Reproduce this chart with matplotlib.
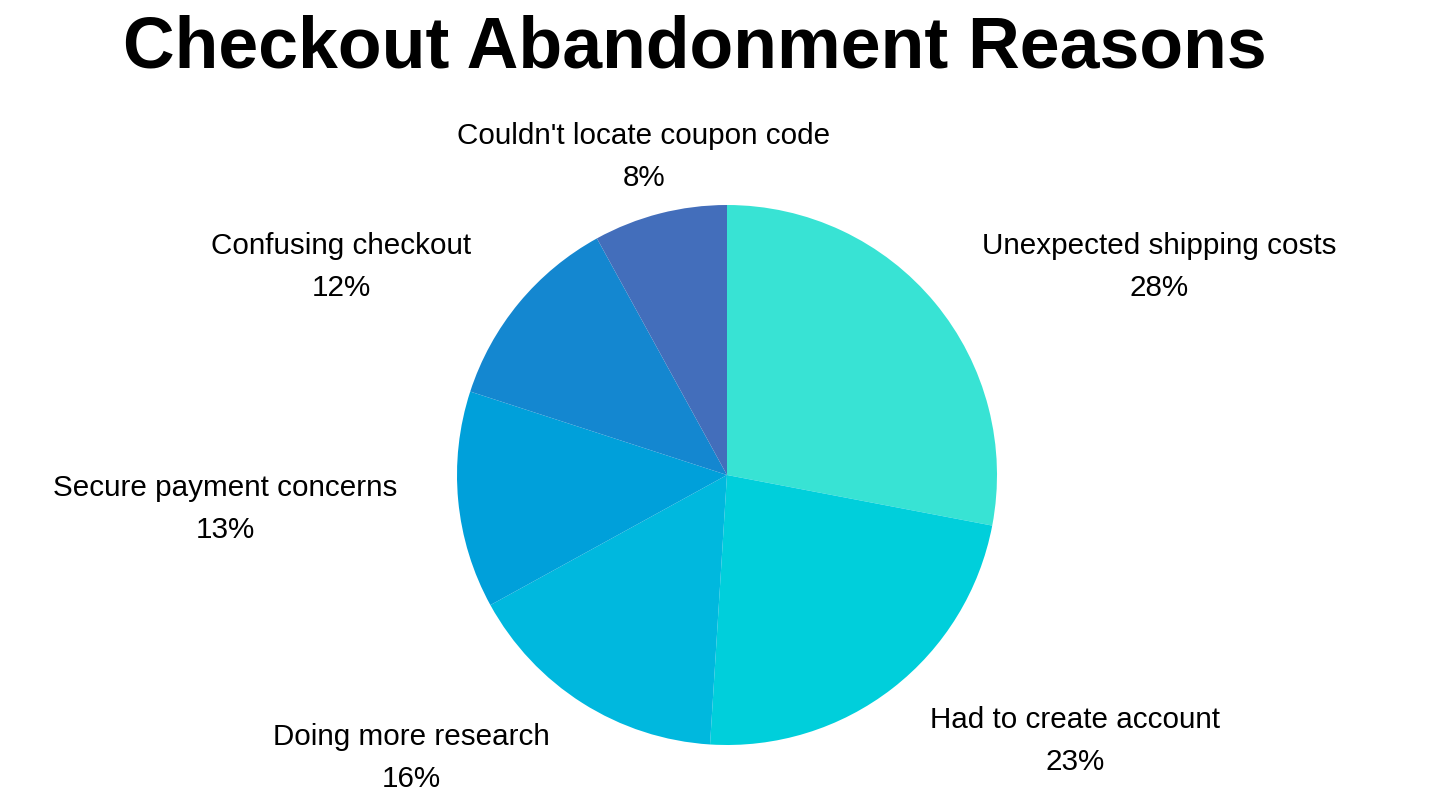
import matplotlib
matplotlib.use("Agg")
import matplotlib.pyplot as plt

reasons = [
    "Unexpected shipping costs",
    "Had to create account",
    "Doing more research",
    "Secure payment concerns",
    "Confusing checkout",
    "Couldn't locate coupon code",
]
shares = [28, 23, 16, 13, 12, 8]
colors = ["#38E3D4", "#00CFDB", "#00B8DE", "#00A0DA", "#1487D0", "#436EBB"]

# label anchor (pixel centre of the first line baseline) in the 1432x805 canvas
label_px = [(1159, 254), (1075, 728), (411, 745), (225, 496), (341, 254), (644, 144)]

W, H = 1432, 805
cx, cy, r = 727, 475, 270

plt.rcParams['font.family'] = ['Liberation Sans', 'DejaVu Sans']

fig = plt.figure(figsize=(W / 100, H / 100), dpi=100)
ax = fig.add_axes([0, 0, 1, 1])
ax.pie(shares, colors=colors, startangle=90, counterclock=False, radius=1,
       wedgeprops=dict(linewidth=0))
ax.set_xlim(-cx / r, (W - cx) / r)
ax.set_ylim(-(H - cy) / r, cy / r)
ax.set_aspect('equal')
ax.axis('off')


def to_data(px, py):
    return (px - cx) / r, (cy - py) / r


for name, val, (px, py) in zip(reasons, shares, label_px):
    x, y = to_data(px, py)
    ax.text(x, y, name, ha='center', va='baseline', fontsize=21.3, color='#000000')
    x2, y2 = to_data(px, py + 42)
    ax.text(x2, y2, f"{val}%", ha='center', va='baseline', fontsize=21.3, color='#000000')

fig.text(695 / W, 1 - 67 / H, "Checkout Abandonment Reasons", ha='center', va='baseline',
         fontsize=51.6, fontweight='bold')

fig.savefig("out.png", dpi=100, facecolor='white')
